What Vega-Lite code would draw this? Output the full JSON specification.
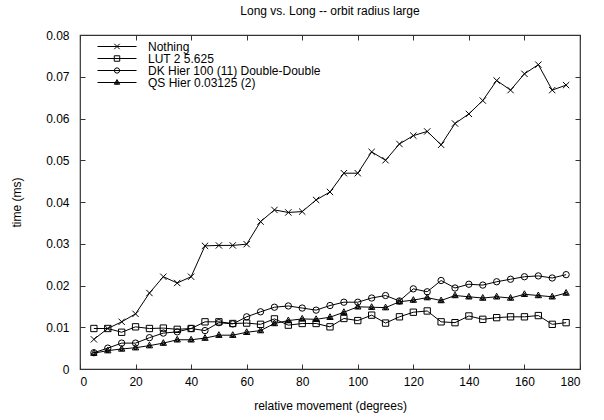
{
  "$schema": "https://vega.github.io/schema/vega-lite/v6.json",
  "width": 500,
  "height": 334,
  "autosize": {"type": "none"},
  "padding": {"left": 80, "top": 35, "right": 24, "bottom": 51},
  "background": "white",
  "title": {"text": "Long vs. Long -- orbit radius large", "fontSize": 12, "fontWeight": "normal", "font": "Liberation Sans", "color": "black", "offset": 11, "anchor": "middle"},
  "config": {
    "view": {"stroke": "#333", "strokeWidth": 1.2},
    "axis": {"grid": false, "domain": false, "labelFont": "Liberation Sans", "titleFont": "Liberation Sans", "labelFontSize": 12, "titleFontSize": 12, "titleFontWeight": "normal", "labelColor": "black", "titleColor": "black", "tickColor": "#333", "tickSize": -5, "tickWidth": 1}
  },
  "data": {"values": [
    {"series": "Nothing", "angle": 5, "time": 0.0071}, {"series": "Nothing", "angle": 10, "time": 0.0097}, {"series": "Nothing", "angle": 15, "time": 0.0113}, {"series": "Nothing", "angle": 20, "time": 0.0132}, {"series": "Nothing", "angle": 25, "time": 0.0182}, {"series": "Nothing", "angle": 30, "time": 0.0221}, {"series": "Nothing", "angle": 35, "time": 0.0206}, {"series": "Nothing", "angle": 40, "time": 0.0221}, {"series": "Nothing", "angle": 45, "time": 0.0295}, {"series": "Nothing", "angle": 50, "time": 0.0296}, {"series": "Nothing", "angle": 55, "time": 0.0296}, {"series": "Nothing", "angle": 60, "time": 0.0299}, {"series": "Nothing", "angle": 65, "time": 0.0353}, {"series": "Nothing", "angle": 70, "time": 0.0381}, {"series": "Nothing", "angle": 75, "time": 0.0375}, {"series": "Nothing", "angle": 80, "time": 0.0377}, {"series": "Nothing", "angle": 85, "time": 0.0405}, {"series": "Nothing", "angle": 90, "time": 0.0424}, {"series": "Nothing", "angle": 95, "time": 0.0469}, {"series": "Nothing", "angle": 100, "time": 0.0469}, {"series": "Nothing", "angle": 105, "time": 0.0520}, {"series": "Nothing", "angle": 110, "time": 0.0500}, {"series": "Nothing", "angle": 115, "time": 0.0539}, {"series": "Nothing", "angle": 120, "time": 0.0559}, {"series": "Nothing", "angle": 125, "time": 0.0569}, {"series": "Nothing", "angle": 130, "time": 0.0537}, {"series": "Nothing", "angle": 135, "time": 0.0588}, {"series": "Nothing", "angle": 140, "time": 0.0611}, {"series": "Nothing", "angle": 145, "time": 0.0643}, {"series": "Nothing", "angle": 150, "time": 0.0691}, {"series": "Nothing", "angle": 155, "time": 0.0668}, {"series": "Nothing", "angle": 160, "time": 0.0707}, {"series": "Nothing", "angle": 165, "time": 0.0729}, {"series": "Nothing", "angle": 170, "time": 0.0668}, {"series": "Nothing", "angle": 175, "time": 0.0680},
    {"series": "LUT 2 5.625", "angle": 5, "time": 0.0097}, {"series": "LUT 2 5.625", "angle": 10, "time": 0.0097}, {"series": "LUT 2 5.625", "angle": 15, "time": 0.0088}, {"series": "LUT 2 5.625", "angle": 20, "time": 0.0101}, {"series": "LUT 2 5.625", "angle": 25, "time": 0.0097}, {"series": "LUT 2 5.625", "angle": 30, "time": 0.0098}, {"series": "LUT 2 5.625", "angle": 35, "time": 0.0095}, {"series": "LUT 2 5.625", "angle": 40, "time": 0.0097}, {"series": "LUT 2 5.625", "angle": 45, "time": 0.0113}, {"series": "LUT 2 5.625", "angle": 50, "time": 0.0113}, {"series": "LUT 2 5.625", "angle": 55, "time": 0.0109}, {"series": "LUT 2 5.625", "angle": 60, "time": 0.0110}, {"series": "LUT 2 5.625", "angle": 65, "time": 0.0107}, {"series": "LUT 2 5.625", "angle": 70, "time": 0.0120}, {"series": "LUT 2 5.625", "angle": 75, "time": 0.0105}, {"series": "LUT 2 5.625", "angle": 80, "time": 0.0109}, {"series": "LUT 2 5.625", "angle": 85, "time": 0.0109}, {"series": "LUT 2 5.625", "angle": 90, "time": 0.0101}, {"series": "LUT 2 5.625", "angle": 95, "time": 0.0121}, {"series": "LUT 2 5.625", "angle": 100, "time": 0.0116}, {"series": "LUT 2 5.625", "angle": 105, "time": 0.0129}, {"series": "LUT 2 5.625", "angle": 110, "time": 0.0110}, {"series": "LUT 2 5.625", "angle": 115, "time": 0.0125}, {"series": "LUT 2 5.625", "angle": 120, "time": 0.0136}, {"series": "LUT 2 5.625", "angle": 125, "time": 0.0139}, {"series": "LUT 2 5.625", "angle": 130, "time": 0.0113}, {"series": "LUT 2 5.625", "angle": 135, "time": 0.0111}, {"series": "LUT 2 5.625", "angle": 140, "time": 0.0127}, {"series": "LUT 2 5.625", "angle": 145, "time": 0.0119}, {"series": "LUT 2 5.625", "angle": 150, "time": 0.0123}, {"series": "LUT 2 5.625", "angle": 155, "time": 0.0125}, {"series": "LUT 2 5.625", "angle": 160, "time": 0.0125}, {"series": "LUT 2 5.625", "angle": 165, "time": 0.0128}, {"series": "LUT 2 5.625", "angle": 170, "time": 0.0107}, {"series": "LUT 2 5.625", "angle": 175, "time": 0.0111},
    {"series": "DK Hier 100 (11) Double-Double", "angle": 5, "time": 0.0039}, {"series": "DK Hier 100 (11) Double-Double", "angle": 10, "time": 0.0050}, {"series": "DK Hier 100 (11) Double-Double", "angle": 15, "time": 0.0062}, {"series": "DK Hier 100 (11) Double-Double", "angle": 20, "time": 0.0062}, {"series": "DK Hier 100 (11) Double-Double", "angle": 25, "time": 0.0075}, {"series": "DK Hier 100 (11) Double-Double", "angle": 30, "time": 0.0086}, {"series": "DK Hier 100 (11) Double-Double", "angle": 35, "time": 0.0089}, {"series": "DK Hier 100 (11) Double-Double", "angle": 40, "time": 0.0097}, {"series": "DK Hier 100 (11) Double-Double", "angle": 45, "time": 0.0092}, {"series": "DK Hier 100 (11) Double-Double", "angle": 50, "time": 0.0111}, {"series": "DK Hier 100 (11) Double-Double", "angle": 55, "time": 0.0108}, {"series": "DK Hier 100 (11) Double-Double", "angle": 60, "time": 0.0125}, {"series": "DK Hier 100 (11) Double-Double", "angle": 65, "time": 0.0137}, {"series": "DK Hier 100 (11) Double-Double", "angle": 70, "time": 0.0148}, {"series": "DK Hier 100 (11) Double-Double", "angle": 75, "time": 0.0151}, {"series": "DK Hier 100 (11) Double-Double", "angle": 80, "time": 0.0146}, {"series": "DK Hier 100 (11) Double-Double", "angle": 85, "time": 0.0141}, {"series": "DK Hier 100 (11) Double-Double", "angle": 90, "time": 0.0152}, {"series": "DK Hier 100 (11) Double-Double", "angle": 95, "time": 0.0160}, {"series": "DK Hier 100 (11) Double-Double", "angle": 100, "time": 0.0160}, {"series": "DK Hier 100 (11) Double-Double", "angle": 105, "time": 0.0170}, {"series": "DK Hier 100 (11) Double-Double", "angle": 110, "time": 0.0176}, {"series": "DK Hier 100 (11) Double-Double", "angle": 115, "time": 0.0163}, {"series": "DK Hier 100 (11) Double-Double", "angle": 120, "time": 0.0192}, {"series": "DK Hier 100 (11) Double-Double", "angle": 125, "time": 0.0185}, {"series": "DK Hier 100 (11) Double-Double", "angle": 130, "time": 0.0212}, {"series": "DK Hier 100 (11) Double-Double", "angle": 135, "time": 0.0194}, {"series": "DK Hier 100 (11) Double-Double", "angle": 140, "time": 0.0203}, {"series": "DK Hier 100 (11) Double-Double", "angle": 145, "time": 0.0201}, {"series": "DK Hier 100 (11) Double-Double", "angle": 150, "time": 0.0209}, {"series": "DK Hier 100 (11) Double-Double", "angle": 155, "time": 0.0215}, {"series": "DK Hier 100 (11) Double-Double", "angle": 160, "time": 0.0221}, {"series": "DK Hier 100 (11) Double-Double", "angle": 165, "time": 0.0223}, {"series": "DK Hier 100 (11) Double-Double", "angle": 170, "time": 0.0218}, {"series": "DK Hier 100 (11) Double-Double", "angle": 175, "time": 0.0226},
    {"series": "QS Hier 0.03125 (2)", "angle": 5, "time": 0.0038}, {"series": "QS Hier 0.03125 (2)", "angle": 10, "time": 0.0044}, {"series": "QS Hier 0.03125 (2)", "angle": 15, "time": 0.0048}, {"series": "QS Hier 0.03125 (2)", "angle": 20, "time": 0.0051}, {"series": "QS Hier 0.03125 (2)", "angle": 25, "time": 0.0056}, {"series": "QS Hier 0.03125 (2)", "angle": 30, "time": 0.0062}, {"series": "QS Hier 0.03125 (2)", "angle": 35, "time": 0.0070}, {"series": "QS Hier 0.03125 (2)", "angle": 40, "time": 0.0070}, {"series": "QS Hier 0.03125 (2)", "angle": 45, "time": 0.0074}, {"series": "QS Hier 0.03125 (2)", "angle": 50, "time": 0.0081}, {"series": "QS Hier 0.03125 (2)", "angle": 55, "time": 0.0081}, {"series": "QS Hier 0.03125 (2)", "angle": 60, "time": 0.0088}, {"series": "QS Hier 0.03125 (2)", "angle": 65, "time": 0.0092}, {"series": "QS Hier 0.03125 (2)", "angle": 70, "time": 0.0109}, {"series": "QS Hier 0.03125 (2)", "angle": 75, "time": 0.0116}, {"series": "QS Hier 0.03125 (2)", "angle": 80, "time": 0.0120}, {"series": "QS Hier 0.03125 (2)", "angle": 85, "time": 0.0119}, {"series": "QS Hier 0.03125 (2)", "angle": 90, "time": 0.0124}, {"series": "QS Hier 0.03125 (2)", "angle": 95, "time": 0.0136}, {"series": "QS Hier 0.03125 (2)", "angle": 100, "time": 0.0149}, {"series": "QS Hier 0.03125 (2)", "angle": 105, "time": 0.0148}, {"series": "QS Hier 0.03125 (2)", "angle": 110, "time": 0.0147}, {"series": "QS Hier 0.03125 (2)", "angle": 115, "time": 0.0161}, {"series": "QS Hier 0.03125 (2)", "angle": 120, "time": 0.0165}, {"series": "QS Hier 0.03125 (2)", "angle": 125, "time": 0.0171}, {"series": "QS Hier 0.03125 (2)", "angle": 130, "time": 0.0164}, {"series": "QS Hier 0.03125 (2)", "angle": 135, "time": 0.0176}, {"series": "QS Hier 0.03125 (2)", "angle": 140, "time": 0.0173}, {"series": "QS Hier 0.03125 (2)", "angle": 145, "time": 0.0170}, {"series": "QS Hier 0.03125 (2)", "angle": 150, "time": 0.0173}, {"series": "QS Hier 0.03125 (2)", "angle": 155, "time": 0.0170}, {"series": "QS Hier 0.03125 (2)", "angle": 160, "time": 0.0179}, {"series": "QS Hier 0.03125 (2)", "angle": 165, "time": 0.0176}, {"series": "QS Hier 0.03125 (2)", "angle": 170, "time": 0.0173}, {"series": "QS Hier 0.03125 (2)", "angle": 175, "time": 0.0182}
  ]},
  "layer": [
    {
      "mark": {"type": "line", "color": "black", "strokeWidth": 1},
      "encoding": {
        "x": {"field": "angle", "type": "quantitative", "scale": {"domain": [0, 180], "nice": false, "zero": false},
              "axis": {"orient": "bottom", "values": [0, 20, 40, 60, 80, 100, 120, 140, 160, 180], "title": "relative movement (degrees)", "labelPadding": 12, "titlePadding": 13}},
        "y": {"field": "time", "type": "quantitative", "scale": {"domain": [0, 0.08], "nice": false},
              "axis": {"orient": "left", "values": [0, 0.01, 0.02, 0.03, 0.04, 0.05, 0.06, 0.07, 0.08], "format": "~g", "title": "time (ms)", "labelPadding": 16, "titlePadding": 22}},
        "detail": {"field": "series", "type": "nominal"},
        "order": {"field": "angle", "type": "quantitative"}
      }
    },
    {
      "mark": {"type": "point", "filled": false, "color": "black", "strokeWidth": 1, "size": 40, "opacity": 1},
      "encoding": {
        "x": {"field": "angle", "type": "quantitative", "axis": {"orient": "top", "values": [0, 20, 40, 60, 80, 100, 120, 140, 160, 180], "labels": false, "title": null}},
        "y": {"field": "time", "type": "quantitative", "axis": {"orient": "right", "values": [0, 0.01, 0.02, 0.03, 0.04, 0.05, 0.06, 0.07, 0.08], "labels": false, "title": null}},
        "shape": {"field": "series", "type": "nominal",
                  "scale": {"domain": ["Nothing", "LUT 2 5.625", "DK Hier 100 (11) Double-Double", "QS Hier 0.03125 (2)"],
                            "range": ["M-1,-1L1,1M-1,1L1,-1", "M-1,-1L1,-1L1,1L-1,1Z", "circle", "M0,-1.1L1,0.7L-1,0.7Z M0,-0.45L0.5,0.4L-0.5,0.4Z M-0.5,0.55L0.5,0.55"]},
                  "legend": null}
      }
    },
    {
      "mark": {"type": "point", "filled": false, "color": "black", "strokeWidth": 1, "opacity": 0},
      "encoding": {
        "x": {"field": "angle", "type": "quantitative", "axis": null},
        "y": {"field": "time", "type": "quantitative", "axis": null},
        "shape": {"field": "series", "type": "nominal",
                  "scale": {"domain": ["Nothing", "LUT 2 5.625", "DK Hier 100 (11) Double-Double", "QS Hier 0.03125 (2)"],
                            "range": ["M-1,0L1,0M-0.14,-0.14L0.14,0.14M-0.14,0.14L0.14,-0.14", "M-1,0L1,0M-0.14,-0.14L0.14,-0.14L0.14,0.14L-0.14,0.14Z", "M-1,0L1,0M0.14,0L0.1,0.1L0,0.14L-0.1,0.1L-0.14,0L-0.1,-0.1L0,-0.14L0.1,-0.1Z", "M-1,0L1,0M0,-0.15L0.14,0.09L-0.14,0.09Z M0,-0.07L0.07,0.06L-0.07,0.06Z"]},
                  "legend": {"orient": "none", "legendX": 17, "legendY": 6, "title": null, "padding": 0, "symbolSize": 1521, "symbolStrokeWidth": 1, "symbolStrokeColor": "black", "symbolOpacity": 1, "clipHeight": 11, "rowPadding": -1.6, "labelFontSize": 12, "labelFont": "Liberation Sans", "labelColor": "black", "labelOffset": 11, "labelLimit": 400}}
      }
    }
  ],
  "resolve": {"scale": {"shape": "independent"}, "axis": {"x": "independent", "y": "independent"}}
}
